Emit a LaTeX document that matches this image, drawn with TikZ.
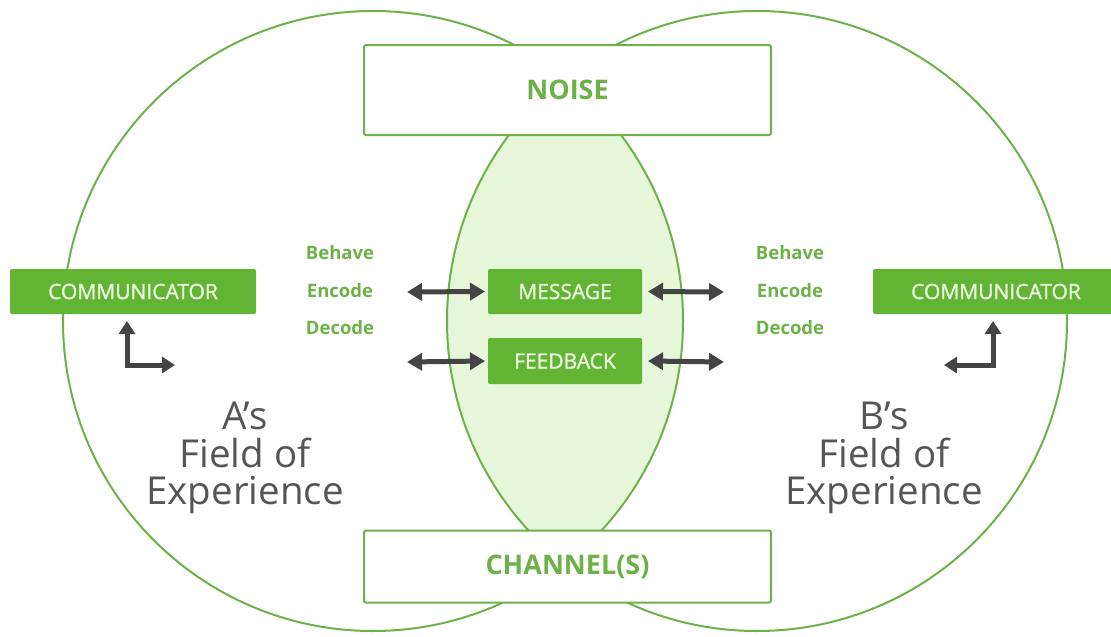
\documentclass[tikz,border=0pt]{standalone}
\usepackage{fontspec}
\setmainfont{Open Sans}
\newfontfamily\semib{Open Sans}[FakeBold=1.5]
\usetikzlibrary{arrows.meta}
\definecolor{ring}{RGB}{108,178,72}
\definecolor{boxgreen}{RGB}{98,180,52}
\definecolor{lensfill}{RGB}{231,247,218}
\definecolor{lighttext}{RGB}{236,248,222}
\definecolor{labgreen}{RGB}{108,178,72}
\definecolor{graytext}{RGB}{85,85,85}
\definecolor{arrowgray}{RGB}{68,68,68}
\tikzset{
  greenbox/.style={fill=boxgreen, rounded corners=2pt, text=lighttext,
    font=\semib\fontsize{21}{24}\selectfont, inner sep=0pt, minimum height=45pt},
  framebox/.style={draw=ring, line width=2pt, fill=white, rounded corners=2pt,
    text=labgreen, font=\bfseries\fontsize{27}{30}\selectfont, inner sep=0pt,
    minimum width=407pt},
  labtext/.style={text=labgreen, font=\bfseries\fontsize{18.5}{22}\selectfont, inner sep=0pt},
  fieldtext/.style={text=graytext, font=\fontsize{38.5}{37.5}\selectfont, align=center, inner sep=0pt},
  dblarrow/.style={draw=arrowgray, line width=5pt,
    {Triangle[length=15pt,width=17pt]}-{Triangle[length=15pt,width=17pt]}},
  elbowarrow/.style={draw=arrowgray, line width=5pt, line join=miter,
    {Triangle[length=13pt,width=16pt]}-{Triangle[length=13pt,width=16pt]}}
}
\begin{document}
\begin{tikzpicture}[x=1pt,y=-1pt]
\useasboundingbox (0,0) rectangle (1111,637);
% lens
\begin{scope}
  \clip (373,321) circle (310);
  \fill[lensfill] (757,321) circle (310);
\end{scope}
% circles
\draw[ring, line width=2pt] (373,321) circle (310);
\draw[ring, line width=2pt] (757,321) circle (310);
% noise and channel
\node[framebox, minimum height=90pt] (noise) at (567.5,90) {NOISE};
\node[framebox, minimum height=72pt] (channel) at (567.5,566.5) {CHANNEL(S)};
% green boxes
\node[greenbox, minimum width=246pt] (commA) at (133,291.5) {COMMUNICATOR};
\fill[boxgreen, rounded corners=2pt] (873,269) rectangle (1120,314);
\node[text=lighttext, font=\semib\fontsize{21}{24}\selectfont, inner sep=0pt] (commB) at (996,291.5) {COMMUNICATOR};
\node[greenbox, minimum width=154pt] (message) at (565,291.5) {MESSAGE};
\node[greenbox, minimum width=154pt, minimum height=46pt] (feedback) at (565,361) {FEEDBACK};
% labels
\node[labtext] (behaveA) at (340,253) {Behave};
\node[labtext] (encodeA) at (340,291) {Encode};
\node[labtext] (decodeA) at (340,328) {Decode};
\node[labtext] (behaveB) at (790,253) {Behave};
\node[labtext] (encodeB) at (790,291) {Encode};
\node[labtext] (decodeB) at (790,328) {Decode};
\node[fieldtext] (fieldA) at (245,458) {A’s\\Field of\\Experience};
\node[fieldtext] (fieldB) at (884,458) {B’s\\Field of\\Experience};
% double arrows
\coordinate (la1) at (407,292);
\coordinate (la2) at (407,362);
\coordinate (ra1) at (724,292);
\coordinate (ra2) at (724,362);
\draw[dblarrow] (la1) -- (message.west -| 485,0);
\draw[dblarrow] (la2) -- (feedback.west -| 485,0);
\draw[dblarrow] (message.east -| 648,0) -- (ra1);
\draw[dblarrow] (feedback.east -| 648,0) -- (ra2);
% elbow arrows
\coordinate (lup) at (127,321);
\coordinate (lrt) at (175,365);
\coordinate (rup) at (993,321);
\coordinate (rlt) at (944,365);
\draw[elbowarrow] (lup) |- (lrt);
\draw[elbowarrow] (rup) |- (rlt);
\end{tikzpicture}
\end{document}
